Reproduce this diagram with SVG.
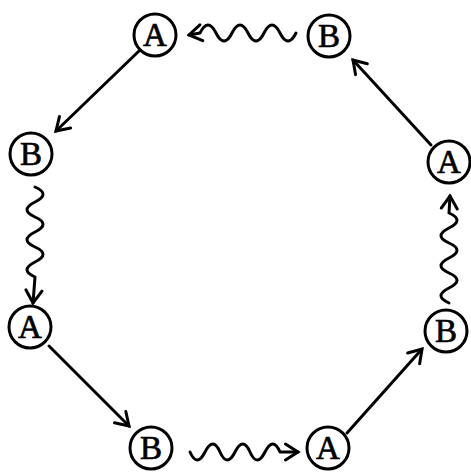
<svg xmlns="http://www.w3.org/2000/svg" width="471" height="475" viewBox="0 0 471 475">
<style>
.node circle{fill:#fff;stroke:#000;stroke-width:3}
.node text{font-family:"Liberation Serif","Times New Roman",serif;font-size:33px;text-anchor:middle;fill:#000;stroke:#000;stroke-width:0.7}
.edge{fill:none;stroke:#000;stroke-width:3;stroke-linecap:round;stroke-linejoin:round;marker-end:url(#arr)}
</style>
<defs>
<marker id="arr" markerUnits="userSpaceOnUse" viewBox="-2 -10 17 20" refX="12.5" refY="0" markerWidth="17" markerHeight="20" orient="auto">
<path d="M0,-8 L12.5,0 L0,8" fill="none" stroke="#000" stroke-width="3" stroke-linecap="round" stroke-linejoin="miter"/>
</marker>
</defs>
<rect width="471" height="475" fill="#fff"/>
<g id="connectors">
<path class="edge" d="M296,33 q-8,16 -16,0 t-16,0 t-16,0 t-16,0 t-16,0 t-16,0 L189,35"/>
<path class="edge" d="M139,51 L56,131"/>
<path class="edge" d="M35,187 q16,7 0,15 t0,15 t0,15 t0,15 t0,15 t0,15 L33,303"/>
<path class="edge" d="M49,346 L129,426"/>
<path class="edge" d="M190,452 q7,16 15,0 t15,0 t15,0 t15,0 t15,0 t15,0 L298,452"/>
<path class="edge" d="M347,433 L422,349"/>
<path class="edge" d="M449,303 q-16,-7 0,-15 t0,-15 t0,-15 t0,-15 t0,-15 t0,-15 L450,196"/>
<path class="edge" d="M431,145 L353,60"/>
</g>
<g id="n1" class="node"><circle cx="155" cy="35" r="21"/><text x="155" y="46">A</text></g>
<g id="n2" class="node"><circle cx="329" cy="36" r="21"/><text x="329" y="47">B</text></g>
<g id="n3" class="node"><circle cx="31" cy="154" r="21"/><text x="31" y="165">B</text></g>
<g id="n4" class="node"><circle cx="449" cy="162" r="21"/><text x="449" y="173">A</text></g>
<g id="n5" class="node"><circle cx="30" cy="327" r="21"/><text x="30" y="338">A</text></g>
<g id="n6" class="node"><circle cx="446" cy="331" r="21"/><text x="446" y="342">B</text></g>
<g id="n7" class="node"><circle cx="151" cy="448" r="21"/><text x="151" y="459">B</text></g>
<g id="n8" class="node"><circle cx="328" cy="448" r="21"/><text x="328" y="459">A</text></g>
</svg>
